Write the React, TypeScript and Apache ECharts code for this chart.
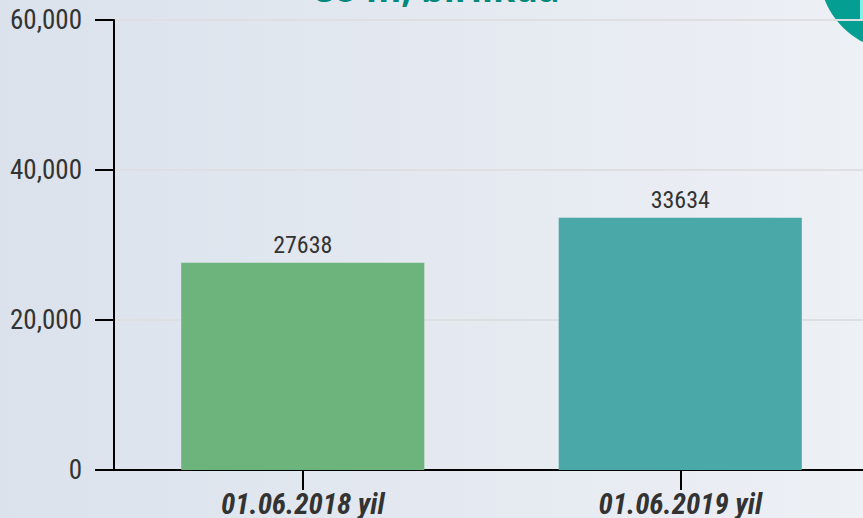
import React, { useEffect, useRef } from "react";
import * as echarts from "echarts";

const categories = ["01.06.2018 yil", "01.06.2019 yil"];
const values = [27638, 33634];
const barColors = ["#6db47c", "#4aa8a9"];
const yTicks = [0, 20000, 40000, 60000];
const titleText = "so'm, birlikda";

const FONT = '"Roboto Condensed", "Liberation Sans Narrow", "DejaVu Sans Condensed", sans-serif';

export default function App() {
  const ref = useRef<HTMLDivElement>(null);
  useEffect(() => {
    if (!ref.current) return;
    const chart = echarts.init(ref.current, undefined, { renderer: "svg" });
    chart.setOption({
      animation: false,
      backgroundColor: new echarts.graphic.LinearGradient(0, 0, 1, 0, [
        { offset: 0, color: "#dbe2ec" },
        { offset: 1, color: "#edf0f5" },
      ]),
      grid: {
        left: 114,
        right: -6,
        top: 20,
        bottom: 48,
        containLabel: false,
        outerBoundsMode: "none",
      },
      xAxis: {
        type: "category",
        data: categories,
        axisLine: { lineStyle: { color: "#000", width: 2 } },
        axisTick: { show: true, alignWithLabel: true, length: 20, lineStyle: { color: "#000", width: 2 } },
        axisLabel: {
          color: "#333",
          fontFamily: FONT,
          fontSize: 29,
          fontWeight: "bold",
          fontStyle: "italic",
          margin: 21,
          lineHeight: 26,
        },
      },
      yAxis: {
        type: "value",
        min: yTicks[0],
        max: yTicks[yTicks.length - 1],
        interval: 20000,
        axisLine: { show: true, lineStyle: { color: "#000", width: 2 } },
        axisTick: { show: true, length: 19, lineStyle: { color: "#000", width: 2 } },
        splitLine: { show: true, lineStyle: { color: "#dedfe2", width: 2 } },
        axisLabel: {
          color: "#333",
          fontFamily: FONT,
          fontSize: 27,
          margin: 32,
          formatter: (v: number) => v.toLocaleString("en-US"),
        },
      },
      series: [
        {
          type: "bar",
          barWidth: "64.4%",
          data: values.map((v, i) => ({ value: v, itemStyle: { color: barColors[i] } })),
          label: {
            show: true,
            position: "top",
            distance: 6,
            color: "#333",
            fontFamily: FONT,
            fontSize: 24,
          },
        },
      ],
      graphic: [
        {
          type: "text",
          x: 438,
          y: 6,
          style: {
            text: titleText,
            textAlign: "center",
            textVerticalAlign: "bottom",
            fill: "#00897b",
            font: 'bold 36px "Open Sans", sans-serif',
          },
          silent: true,
        },
        {
          type: "circle",
          shape: { cx: 900, cy: -30, r: 81 },
          style: { fill: "#059e92" },
          silent: true,
        },
        {
          type: "rect",
          shape: { x: 860, y: 0, width: 10, height: 21 },
          style: { fill: "#82f2e8" },
          silent: true,
        },
      ],
    });
    return () => chart.dispose();
  }, []);
  return (
    <div
      ref={ref}
      style={{ position: "fixed", left: 0, top: 0, width: 863, height: 518 }}
    />
  );
}
